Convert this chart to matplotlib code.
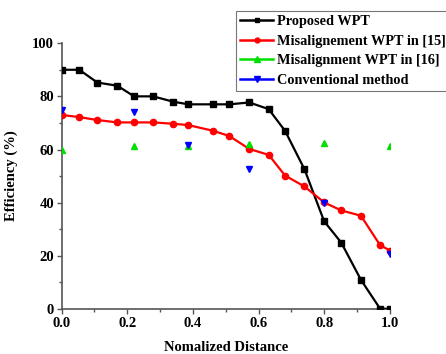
import matplotlib
matplotlib.use("Agg")
import matplotlib.pyplot as plt
from matplotlib.lines import Line2D
from matplotlib.ticker import MultipleLocator

plt.rcParams['font.family'] = ['Liberation Serif', 'DejaVu Serif']
plt.rcParams['font.weight'] = 'bold'

# normalized distance for the two swept curves
x_sweep = [0.0, 0.054, 0.109, 0.170, 0.221, 0.279, 0.340, 0.386, 0.460, 0.511,
           0.572, 0.631, 0.681, 0.740, 0.800, 0.852, 0.912, 0.970, 1.0]
proposed = [90, 90, 85.2, 84, 80, 80, 78, 77, 77, 77,
            77.7, 75.2, 67, 52.6, 33, 25, 11, 0.2, 0]
misalign15 = [73, 72.2, 71.1, 70.2, 70.2, 70.2, 69.7, 69.2, 67.1, 65.1,
              60.2, 58, 50.2, 46.1, 40.1, 37.1, 35.1, 24.1, 22]

# sparse measurements
x_sparse = [0.0, 0.221, 0.386, 0.572, 0.800, 1.0]
misalign16 = [60, 61.3, 61.5, 62.2, 62.4, 61.5]
conventional = [75, 74, 61.8, 52.7, 40, 20.8]

labels = ["Proposed WPT", "Misalignement WPT in [15]",
          "Misalignment WPT in [16]", "Conventional method"]

fig = plt.figure(figsize=(4.46, 3.54), dpi=100)
ax = fig.add_axes([0.138, 0.127, 0.736, 0.751])

ax.plot(x_sweep, proposed, color='black', lw=1.6, marker='s', ms=4.5, zorder=3)
ax.plot(x_sweep, misalign15, color='red', lw=1.6, marker='o', ms=4.5, zorder=3)
ax.plot(x_sparse, misalign16, ls='none', color='#00e000', marker='^', ms=5, zorder=4)
ax.plot(x_sparse, conventional, ls='none', color='blue', marker='v', ms=5, zorder=4)

ax.set_xlim(0, 1.0)
ax.set_ylim(0, 100)
ax.xaxis.set_major_locator(MultipleLocator(0.2))
ax.xaxis.set_minor_locator(MultipleLocator(0.1))
ax.yaxis.set_major_locator(MultipleLocator(20))
ax.yaxis.set_minor_locator(MultipleLocator(10))
ax.tick_params(which='major', direction='out', length=3.5, width=1,
               color='#555555', labelsize=10.5, pad=2)
ax.tick_params(which='minor', direction='out', length=2, width=1, color='#555555')
for lab in ax.get_xticklabels() + ax.get_yticklabels():
    lab.set_fontweight('bold')

for s in ['top', 'right']:
    ax.spines[s].set_visible(False)
for s in ['left', 'bottom']:
    ax.spines[s].set_color('#555555')
    ax.spines[s].set_linewidth(1.2)

ax.set_xlabel("Nomalized Distance", fontsize=10.5, fontweight='bold', labelpad=8)
ax.set_ylabel("Efficiency (%)", fontsize=10.5, fontweight='bold', labelpad=10)

handles = [
    Line2D([], [], color='black', lw=1.8, marker='s', ms=3.5),
    Line2D([], [], color='red', lw=1.8, marker='o', ms=3.5),
    Line2D([], [], color='#00e000', lw=1.8, marker='^', ms=4),
    Line2D([], [], color='blue', lw=1.8, marker='v', ms=4),
]
# legend sticks out past the right edge, as in the original figure
leg = fig.legend(handles, labels, loc='upper left',
                 bbox_to_anchor=(236 / 446, 1 - 11 / 354),
                 prop={'weight': 'bold', 'size': 10.3}, frameon=True,
                 fancybox=False, borderpad=0.3, labelspacing=0.45,
                 handlelength=2.3, handletextpad=0.25, borderaxespad=0)
leg.get_frame().set_edgecolor('#555555')
leg.get_frame().set_linewidth(0.8)

fig.savefig("out.png", dpi=100)
